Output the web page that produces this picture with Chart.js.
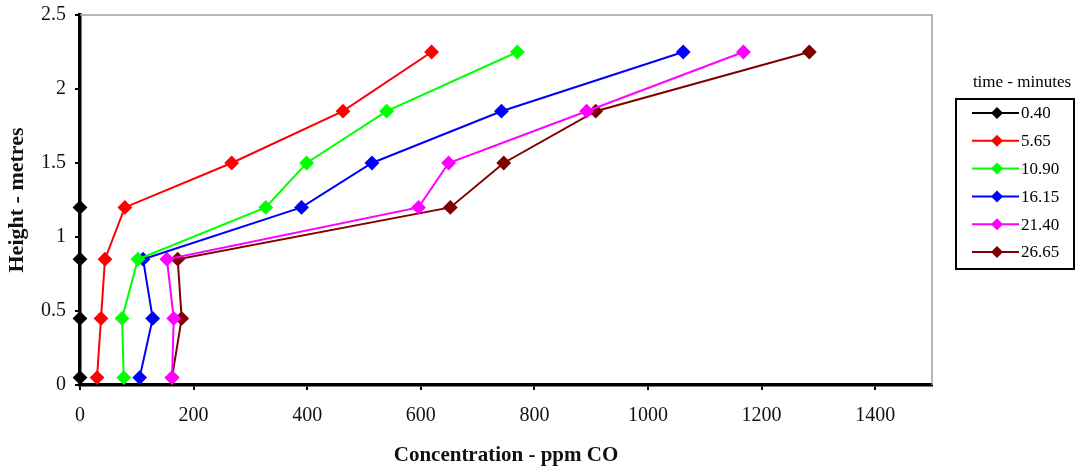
<!DOCTYPE html>
<html>
<head>
<meta charset="utf-8">
<script src="https://cdn.jsdelivr.net/npm/chart.js@4/dist/chart.umd.min.js"></script>
<style>
  html, body { margin: 0; padding: 0; background: #fff; }
  #wrap { width: 1080px; height: 471px; position: relative; }
</style>
</head>
<body>
<div id="wrap"><canvas id="chart"></canvas></div>
<script>
// heights of the sampling points (metres)
const heights = [0.05, 0.45, 0.85, 1.2, 1.5, 1.85, 2.25];
const times = ["0.40", "5.65", "10.90", "16.15", "21.40", "26.65"];
const colors = ["#000000", "#ff0000", "#00ff00", "#0000ff", "#ff00ff", "#800000"];

// concentration, ppm CO, one list per time (bottom to top)
const co040 = [0, 0, 0, 0];
const co565 = [30, 37, 44, 79, 267, 463, 619];
const co1090 = [77, 74, 102, 327, 399, 540, 770];
const co1615 = [105, 128, 111, 390, 514, 742, 1062];
const co2140 = [162, 165, 153, 596, 649, 892, 1168];
const co2665 = [162, 179, 172, 652, 746, 908, 1284];

const xTicks = [0, 200, 400, 600, 800, 1000, 1200, 1400];
const yTicks = [0, 0.5, 1, 1.5, 2, 2.5];

const FONT = "'Liberation Serif', 'Times New Roman', serif";
const series = [co040, co565, co1090, co1615, co2140, co2665];

const datasets = series.map((vals, i) => ({
  label: times[i],
  data: vals.map((v, j) => ({ x: v, y: heights[j] })),
  borderColor: colors[i],
  backgroundColor: colors[i],
  borderWidth: 2,
  pointStyle: "rectRot",
  pointRadius: 6,
  pointHoverRadius: 6,
  showLine: true,
  clip: false,
}));

const framePlugin = {
  id: "frame",
  beforeDatasetsDraw(chart) {
    const { ctx, chartArea: a } = chart;
    ctx.save();
    ctx.strokeStyle = "#a0a0a0";
    ctx.lineWidth = 1.5;
    ctx.beginPath();
    ctx.moveTo(a.left, a.top);
    ctx.lineTo(a.right, a.top);
    ctx.lineTo(a.right, a.bottom);
    ctx.stroke();
    ctx.restore();
  },
};

// legend box to the right of the plot
const boxLegend = {
  id: "boxLegend",
  afterDraw(chart) {
    const ctx = chart.ctx;
    ctx.save();
    ctx.fillStyle = "#000";
    ctx.font = "17px " + FONT;
    ctx.textAlign = "center";
    ctx.textBaseline = "middle";
    ctx.fillText("time - minutes", 1022, 83);

    ctx.strokeStyle = "#000";
    ctx.lineWidth = 2;
    ctx.strokeRect(956, 99, 118, 170);

    chart.data.datasets.forEach((ds, i) => {
      const y = 113 + i * 27.8;
      ctx.strokeStyle = ds.borderColor;
      ctx.lineWidth = 2;
      ctx.beginPath();
      ctx.moveTo(972, y);
      ctx.lineTo(1019, y);
      ctx.stroke();
      ctx.fillStyle = ds.borderColor;
      ctx.beginPath();
      ctx.moveTo(997, y - 6);
      ctx.lineTo(1003, y);
      ctx.lineTo(997, y + 6);
      ctx.lineTo(991, y);
      ctx.closePath();
      ctx.fill();
      ctx.fillStyle = "#000";
      ctx.textAlign = "left";
      ctx.fillText(ds.label, 1021, y + 1);
    });
    ctx.restore();
  },
};

new Chart(document.getElementById("chart"), {
  type: "scatter",
  data: { datasets: datasets },
  options: {
    responsive: true,
    maintainAspectRatio: false,
    animation: false,
    layout: { padding: { top: 15, right: 148, bottom: 0, left: 0 } },
    plugins: {
      legend: { display: false },
      tooltip: { enabled: false },
    },
    scales: {
      x: {
        type: "linear",
        min: 0,
        max: 1500,
        afterBuildTicks: (axis) => {
          axis.ticks = xTicks.map((v) => ({ value: v }));
        },
        afterFit: (axis) => {
          axis.height = 86;
          axis.paddingLeft = 0;
          axis.paddingRight = 0;
        },
        border: { color: "#000", width: 3.5 },
        grid: {
          drawOnChartArea: false,
          drawTicks: true,
          tickLength: 5,
          color: "#000",
          lineWidth: 2,
        },
        ticks: {
          color: "#111",
          padding: 14,
          font: { family: FONT, size: 20 },
          callback: (v) => String(v),
        },
        title: {
          display: true,
          text: "Concentration - ppm CO",
          color: "#111",
          font: { family: FONT, size: 21, weight: "bold" },
          padding: { top: 0, bottom: 3 },
        },
      },
      y: {
        type: "linear",
        min: 0,
        max: 2.5,
        afterBuildTicks: (axis) => {
          axis.ticks = yTicks.map((v) => ({ value: v }));
        },
        afterFit: (axis) => {
          axis.width = 80;
          axis.paddingTop = 0;
          axis.paddingBottom = 0;
        },
        border: { color: "#000", width: 3.5 },
        grid: {
          drawOnChartArea: false,
          drawTicks: true,
          tickLength: 5,
          color: "#000",
          lineWidth: 2,
        },
        ticks: {
          color: "#111",
          padding: 9,
          font: { family: FONT, size: 20 },
          callback: (v) => String(v),
        },
        title: {
          display: true,
          text: "Height - metres",
          color: "#111",
          font: { family: FONT, size: 22, weight: "bold" },
          padding: { top: 4, bottom: 0 },
        },
      },
    },
  },
  plugins: [framePlugin, boxLegend],
});
</script>
</body>
</html>
